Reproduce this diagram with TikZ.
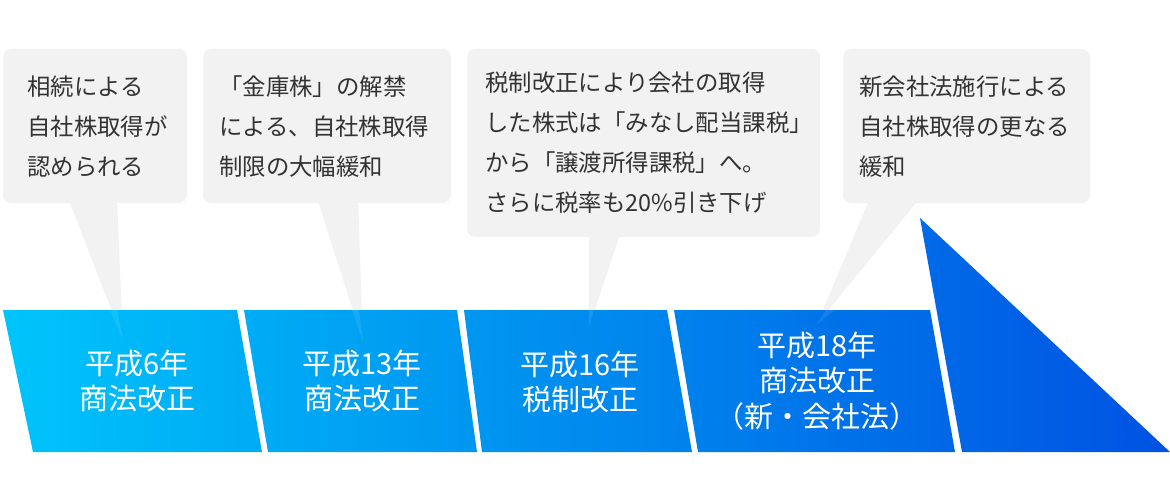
\documentclass[tikz,border=0pt]{standalone}
\usepackage{fontspec}
\newfontfamily\jp{Noto Sans CJK JP}
\definecolor{callgray}{HTML}{F2F2F2}
\definecolor{txtgray}{HTML}{333333}
\definecolor{bandL}{HTML}{00C4FA}
\definecolor{bandR}{HTML}{0052E2}
\begin{document}
\begin{tikzpicture}[x=1pt,y=-1pt,
  callout/.style={fill=callgray},
  boxtxt/.style={anchor=west,align=left,inner sep=0pt,text=txtgray,font=\jp\fontsize{23.4}{40}\selectfont},
  bandtxt/.style={anchor=center,align=center,inner sep=0pt,text=white,font=\jp\fontsize{29}{35.5}\selectfont},
  glint/.style={fill=white,fill opacity=0.09}]
\useasboundingbox (0,0) rectangle (1170,500);
% callout pointers
\fill[callout] (68,198) -- (123,340) -- (117,198) -- cycle;
\fill[callout] (317,198) -- (363,342) -- (358,198) -- cycle;
\fill[callout] (589,232) -- (589,327) -- (621,232) -- cycle;
\fill[callout] (870,198) -- (817,324) -- (920,198) -- cycle;
% callout boxes
\fill[callout,rounded corners=8pt] (3,49) rectangle (187,203);
\fill[callout,rounded corners=8pt] (203,49) rectangle (451,203);
\fill[callout,rounded corners=8pt] (467,49) rectangle (820,237);
\fill[callout,rounded corners=8pt] (843,49) rectangle (1090,203);
% band
\shade[left color=bandL,right color=bandR]
  (3,310) -- (237,310) -- (262,452) -- (33,452) -- cycle
  (244,310) -- (457,310) -- (477,452) -- (268,452) -- cycle
  (464,310) -- (667,310) -- (692,452) -- (482,452) -- cycle
  (674,310) -- (930,310) -- (955,452) -- (698,452) -- cycle
  (920,218) -- (1170,452) -- (962,452) -- cycle;
% pointer tips over band
\fill[glint] (110,310) -- (123,340) -- (117,310) -- cycle;
\fill[glint] (352,310) -- (363,342) -- (359,310) -- cycle;
\fill[glint] (589,310) -- (589,327) -- (594,310) -- cycle;
\fill[glint] (826,310) -- (817,324) -- (835,310) -- cycle;
% callout texts
\node[boxtxt] (t1) at (27,127) {相続による\\自社株取得が\\認められる};
\node[boxtxt] (t2) at (219,127) {「金庫株」の解禁\\による、自社株取得\\制限の大幅緩和};
\node[boxtxt] (t3) at (485,143) {税制改正により会社の取得\\した株式は「みなし配当課税」\\から「譲渡所得課税」へ。\\さらに税率も20\%引き下げ};
\node[boxtxt] (t4) at (859,127) {新会社法施行による\\自社株取得の更なる\\緩和};
% band texts
\node[bandtxt] (s1) at (137,381) {平成6年\\商法改正};
\node[bandtxt] (s2) at (362,381) {平成13年\\商法改正};
\node[bandtxt] (s3) at (580,382) {平成16年\\税制改正};
\node[bandtxt] (s4) at (817,381) {平成18年\\商法改正\\（新・会社法）};
\end{tikzpicture}
\end{document}
